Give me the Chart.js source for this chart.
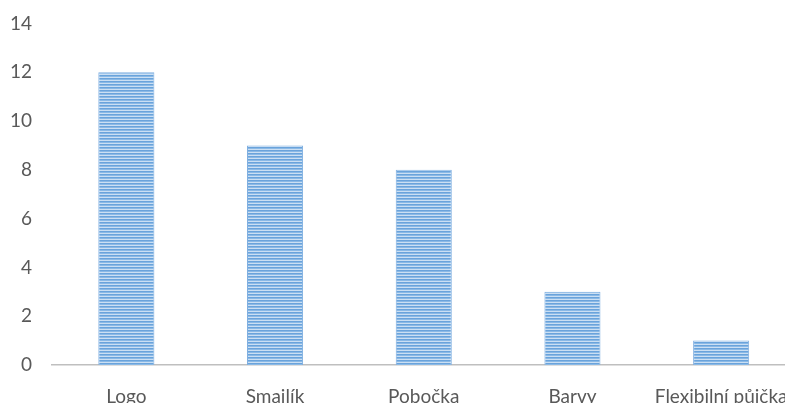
<!DOCTYPE html>
<html lang="cs">
<head>
  <meta charset="UTF-8">
  <title>Bar chart</title>
  <script src="https://cdn.jsdelivr.net/npm/chart.js"></script>
  <style>
    html, body { margin: 0; padding: 0; background: #fff; overflow: hidden; }
    #wrap { width: 800px; height: 403px; }
  </style>
</head>
<body>
  <div id="wrap"><canvas id="chart" width="800" height="403"></canvas></div>

  <script>
    const categories = ['Logo', 'Smajlík', 'Pobočka', 'Barvy', 'Flexibilní půjčka'];
    const values = [12, 9, 8, 3, 1];
    const yTicks = [0, 2, 4, 6, 8, 10, 12, 14];

    // horizontal stripe fill like the Excel pattern
    function stripePattern() {
      const c = document.createElement('canvas');
      c.width = 4; c.height = 3;
      const g = c.getContext('2d');
      g.fillStyle = '#6aa3db'; g.fillRect(0, 0, 4, 1);
      g.fillStyle = '#8ab9e6'; g.fillRect(0, 1, 4, 1);
      g.fillStyle = '#cbdff3'; g.fillRect(0, 2, 4, 1);
      return g.createPattern(c, 'repeat');
    }

    const textColor = '#595959';
    const font = { family: 'Lato', size: 19 };

    const ctx = document.getElementById('chart').getContext('2d');
    new Chart(ctx, {
      type: 'bar',
      data: {
        labels: categories,
        datasets: [{
          data: values,
          backgroundColor: stripePattern(),
          borderColor: '#7eaee0',
          borderWidth: 1,
          borderSkipped: 'bottom',
          categoryPercentage: 1,
          barPercentage: 0.377
        }]
      },
      options: {
        responsive: false,
        animation: false,
        layout: { padding: { top: 19, right: 4.5, bottom: 0, left: 0 } },
        plugins: { legend: { display: false }, tooltip: { enabled: false } },
        scales: {
          x: {
            grid: { display: false },
            border: { display: true, color: '#bfbfbf', width: 1.5 },
            ticks: { color: textColor, font: font, padding: 12, maxRotation: 0, autoSkip: false },
            afterFit: s => { s.height = 38; }
          },
          y: {
            min: 0,
            max: 14,
            afterBuildTicks: s => { s.ticks = yTicks.map(v => ({ value: v })); },
            grid: { display: false },
            border: { display: false },
            ticks: { color: textColor, font: font, padding: 12 },
            afterFit: s => { s.width = 52; }
          }
        }
      }
    });
  </script>
</body>
</html>
